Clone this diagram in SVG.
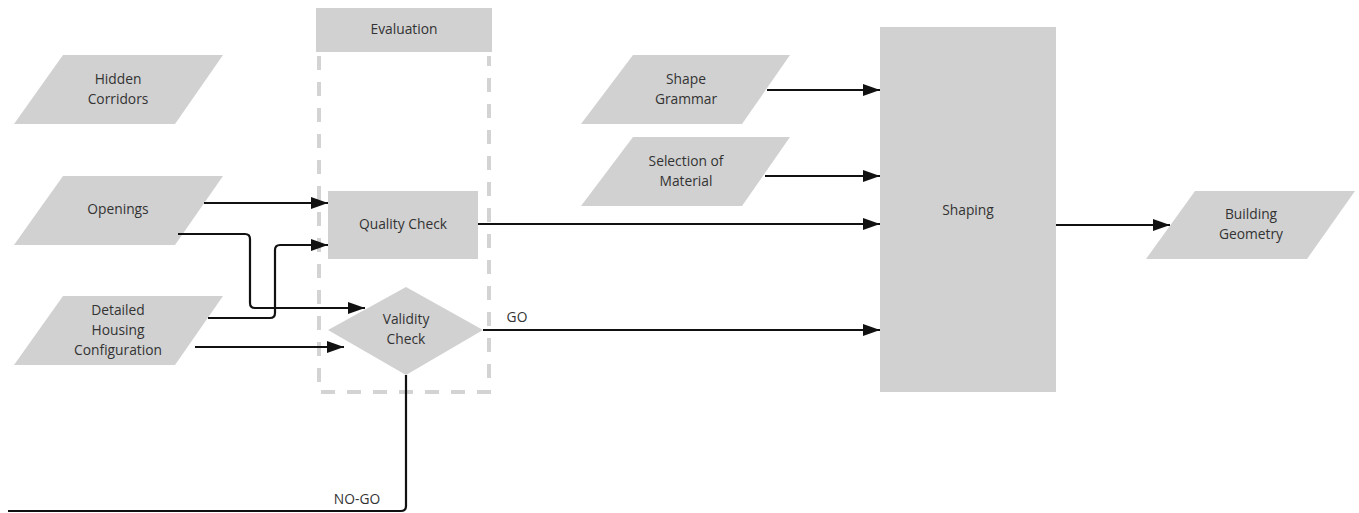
<svg xmlns="http://www.w3.org/2000/svg" width="1359" height="513" viewBox="0 0 1359 513">
  <style>
    .shape { fill: #d1d1d1; stroke: none; }
    .label { font-family: "Open Sans", "Liberation Sans", sans-serif; font-size: 13.8px; fill: #333333; text-anchor: middle; }
    .edge { fill: none; stroke: #111111; stroke-width: 2.2; }
    .group-frame { fill: none; stroke: #d3d3d3; stroke-width: 4; stroke-dasharray: 14 12; }
  </style>
  <defs>
    <marker id="arrow" markerUnits="userSpaceOnUse" markerWidth="17" markerHeight="12" refX="17" refY="6" orient="auto">
      <path d="M0,0 L17,6 L0,12 z" fill="#111111"/>
    </marker>
  </defs>
  <rect width="1359" height="513" fill="#ffffff"/>

  <!-- Evaluation swimlane -->
  <g id="evaluation">
    <rect class="shape" x="316" y="8" width="176" height="44"/>
    <text class="label" x="404" y="34">Evaluation</text>
    <path class="group-frame" d="M319,56 V392 H489 V56"/>
  </g>

  <g id="hidden-corridors">
    <polygon class="shape" points="63,55 223,55 175,124 14,124"/>
    <text class="label" x="118" y="84">Hidden</text>
    <text class="label" x="118" y="104">Corridors</text>
  </g>

  <g id="openings">
    <polygon class="shape" points="63,176 223,176 175,245 14,245"/>
    <text class="label" x="118" y="214">Openings</text>
  </g>

  <g id="detailed-housing">
    <polygon class="shape" points="63,296 223,296 175,365 14,365"/>
    <text class="label" x="118" y="315">Detailed</text>
    <text class="label" x="118" y="335">Housing</text>
    <text class="label" x="118" y="355">Configuration</text>
  </g>

  <g id="quality-check">
    <rect class="shape" x="328" y="191" width="150" height="68"/>
    <text class="label" x="403" y="229">Quality Check</text>
  </g>

  <g id="validity-check">
    <polygon class="shape" points="406,287 483,330 406,375 328,330"/>
    <text class="label" x="406" y="324">Validity</text>
    <text class="label" x="406" y="344">Check</text>
  </g>

  <g id="shape-grammar">
    <polygon class="shape" points="633,55 790,55 742,124 581,124"/>
    <text class="label" x="686" y="84">Shape</text>
    <text class="label" x="686" y="104">Grammar</text>
  </g>

  <g id="selection-of-material">
    <polygon class="shape" points="633,137 790,137 742,206 581,206"/>
    <text class="label" x="686" y="166">Selection of</text>
    <text class="label" x="686" y="186">Material</text>
  </g>

  <g id="shaping">
    <rect class="shape" x="880" y="27" width="176" height="365"/>
    <text class="label" x="968" y="215">Shaping</text>
  </g>

  <g id="building-geometry">
    <polygon class="shape" points="1195,191 1355,191 1307,259 1146,259"/>
    <text class="label" x="1251" y="219">Building</text>
    <text class="label" x="1251" y="239">Geometry</text>
  </g>

  <g id="connectors">
    <path class="edge" marker-end="url(#arrow)" d="M204,203 H328"/>
    <path class="edge" marker-end="url(#arrow)" d="M178,234 H245 Q250,234 250,239 V303 Q250,308 255,308 H365"/>
    <path class="edge" marker-end="url(#arrow)" d="M208,318 H270 Q275,318 275,313 V250 Q275,245 280,245 H328"/>
    <path class="edge" marker-end="url(#arrow)" d="M195,347 H344"/>
    <path class="edge" marker-end="url(#arrow)" d="M478,224 H880"/>
    <path class="edge" marker-end="url(#arrow)" d="M483,330 H880"/>
    <path class="edge" marker-end="url(#arrow)" d="M767,90 H880"/>
    <path class="edge" marker-end="url(#arrow)" d="M765,176 H880"/>
    <path class="edge" marker-end="url(#arrow)" d="M1056,225 H1170"/>
    <path class="edge" d="M406,375 V506 Q406,511 401,511 H8"/>
    <text class="label" x="517" y="322">GO</text>
    <text class="label" x="357" y="504">NO-GO</text>
  </g>
</svg>
